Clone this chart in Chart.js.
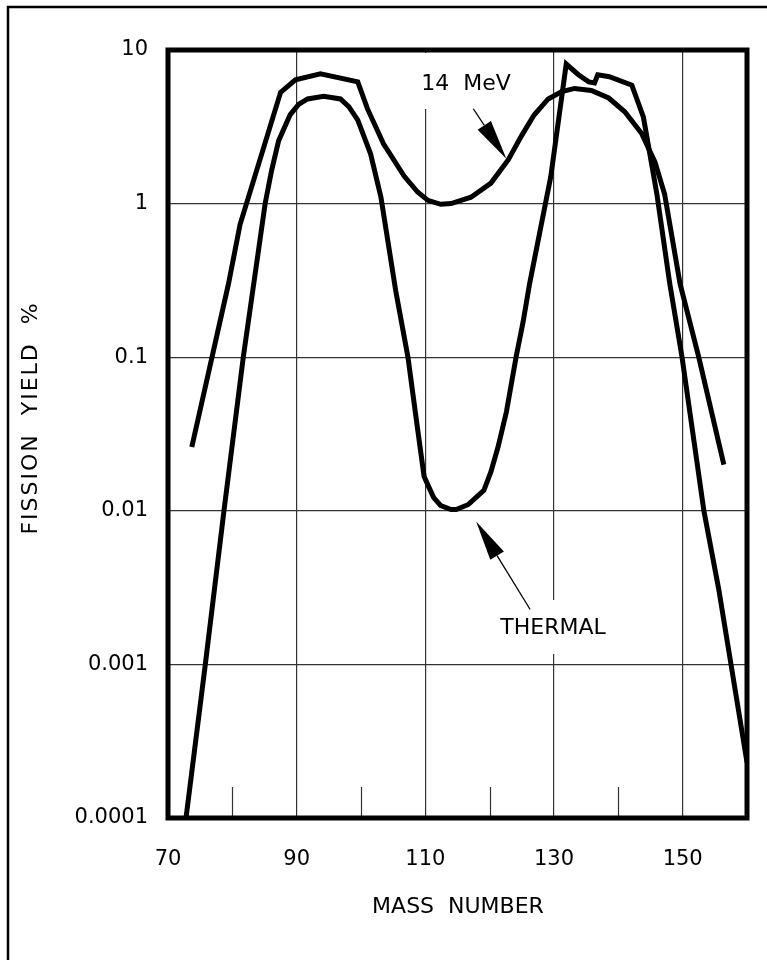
<!DOCTYPE html>
<html>
<head>
<meta charset="utf-8">
<script src="https://cdn.jsdelivr.net/npm/chart.js@4.4.1/dist/chart.umd.min.js"></script>
<style>
  html, body { margin: 0; padding: 0; background: #fff; }
  #wrap { width: 767px; height: 960px; position: relative; }
</style>
</head>
<body>
<div id="wrap"><canvas id="myChart"></canvas></div>
<script>
// tick values / labels
const massTicks = [70, 90, 110, 130, 150]
const minorTicks = [80, 100, 120, 140]
const yieldTicks = [0.0001, 0.001, 0.01, 0.1, 1, 10]
const yieldLabels = ['0.0001', '0.001', '0.01', '0.1', '1', '10']

// 14 MeV curve
const mev14Mass = [73.7, 79.4, 81.2, 87.5, 89.8, 93.7, 99.5, 101.0, 103.5, 106.7, 108.8, 110.4, 112.4, 114.0,
    117.1, 120.2, 122.9, 124.9, 126.9, 129.1, 131.2, 133.2, 135.8, 138.5, 141.0, 143.6, 145.7, 147.2, 149.6, 152.5, 156.4]
const mev14Yield = [0.026, 0.30, 0.73, 5.3, 6.4, 7.0, 6.2, 4.15, 2.45, 1.51, 1.19, 1.05, 0.99, 1.0,
    1.10, 1.36, 1.93, 2.74, 3.77, 4.8, 5.36, 5.62, 5.45, 4.87, 3.96, 2.87, 1.86, 1.15, 0.30, 0.10, 0.020]

// thermal curve
const thermalMass = [72.8, 75.8, 78.7, 81.7, 85.1, 86.1, 87.2, 89.0, 90.3, 91.7, 94.2, 96.8, 98.1, 99.5, 100.4, 101.5, 103.1,
    105.4, 107.3, 108.8, 109.8, 110.6, 111.3, 112.4, 114.0, 114.8, 116.7, 119.1, 120.2, 121.3, 122.6, 124.1, 125.2, 126.2,
    129.5, 131.9, 133.8, 135.4, 136.3, 136.8, 138.6, 142.1, 143.9, 146.0, 148.0, 149.9, 153.3, 155.6, 160]
const thermalYield = [0.0001, 0.001, 0.01, 0.1, 1, 1.64, 2.57, 3.8, 4.43, 4.8, 5.0, 4.8, 4.28, 3.5, 2.78, 2.1, 1.1,
    0.27, 0.10, 0.034, 0.0168, 0.0141, 0.0122, 0.0108, 0.0102, 0.0102, 0.011, 0.0136, 0.018, 0.026, 0.044, 0.10, 0.17, 0.30,
    1.5, 8.1, 6.9, 6.2, 6.1, 6.9, 6.7, 5.9, 3.65, 1.15, 0.30, 0.10, 0.010, 0.0031, 0.00023]

const fontFam = "'DejaVu Sans', 'Liberation Sans', sans-serif"

function toPoints(xs, ys) {
    return xs.map((x, i) => ({ x: x, y: ys[i] }))
}

function arrow(ctx, tipX, tipY, tailX, tailY, headLen, headW) {
    const ang = Math.atan2(tipY - tailY, tipX - tailX)
    const bx = tipX - headLen * Math.cos(ang)
    const by = tipY - headLen * Math.sin(ang)
    ctx.beginPath()
    ctx.moveTo(tailX, tailY)
    ctx.lineTo(bx, by)
    ctx.lineWidth = 1.3
    ctx.stroke()
    const nx = -Math.sin(ang) * headW / 2
    const ny = Math.cos(ang) * headW / 2
    ctx.beginPath()
    ctx.moveTo(tipX, tipY)
    ctx.lineTo(bx + nx, by + ny)
    ctx.lineTo(bx - nx, by - ny)
    ctx.closePath()
    ctx.fill()
}

const decor = {
    id: 'decor',
    beforeDatasetsDraw(chart) {
        const ctx = chart.ctx
        const a = chart.chartArea
        const xs = chart.scales.x
        ctx.save()
        // gaps in the grid behind the labels
        ctx.fillStyle = '#fff'
        ctx.fillRect(405, a.top + 3, 120, 56)
        ctx.fillRect(490, 600, 125, 54)
        // short ticks at the odd tens
        ctx.strokeStyle = '#333'
        ctx.lineWidth = 1.2
        minorTicks.forEach(v => {
            const px = Math.round(xs.getPixelForValue(v)) + 0.5
            ctx.beginPath()
            ctx.moveTo(px, a.bottom)
            ctx.lineTo(px, a.bottom - 31)
            ctx.stroke()
        })
        ctx.restore()
    },
    afterDraw(chart) {
        const ctx = chart.ctx
        const a = chart.chartArea
        const xs = chart.scales.x
        const ys = chart.scales.y
        ctx.save()
        // outer frame (top and left only)
        ctx.strokeStyle = '#000'
        ctx.lineWidth = 2.5
        ctx.beginPath()
        ctx.moveTo(8, 960)
        ctx.lineTo(8, 7)
        ctx.lineTo(767, 7)
        ctx.stroke()
        // plot frame
        ctx.lineWidth = 5
        ctx.strokeRect(a.left, a.top, a.right - a.left, a.bottom - a.top)

        ctx.fillStyle = '#000'
        ctx.font = '22px ' + fontFam
        ctx.textAlign = 'center'
        ctx.textBaseline = 'middle'
        ctx.fillText('14  MeV', 466, 84)
        ctx.fillText('THERMAL', 553, 628)
        ctx.fillText('MASS  NUMBER', 458, 907)

        ctx.save()
        ctx.letterSpacing = '2px'
        ctx.translate(31, 418)
        ctx.rotate(-Math.PI / 2)
        ctx.fillText('FISSION  YIELD  %', 0, 0)
        ctx.restore()

        // arrows pointing at the curves
        ctx.strokeStyle = '#000'
        let tx = xs.getPixelForValue(122.9) - 2
        let ty = ys.getPixelForValue(1.93) - 1
        arrow(ctx, tx, ty, tx - 33, ty - 50, 40, 16)
        tx = xs.getPixelForValue(117.9)
        ty = ys.getPixelForValue(0.0102) + 12
        arrow(ctx, tx, ty, tx + 54, ty + 88, 40, 16)
        ctx.restore()
    }
}

const ctx = document.getElementById('myChart').getContext('2d')

const myChart = new Chart(ctx, {
    type: 'line',
    data: {
        datasets: [
            {
                label: '14 MeV',
                data: toPoints(mev14Mass, mev14Yield),
                borderColor: '#000',
                borderWidth: 5,
                pointRadius: 0,
                tension: 0,
                fill: false
            },
            {
                label: 'THERMAL',
                data: toPoints(thermalMass, thermalYield),
                borderColor: '#000',
                borderWidth: 5,
                pointRadius: 0,
                tension: 0,
                fill: false
            }
        ]
    },
    options: {
        responsive: true,
        maintainAspectRatio: false,
        animation: false,
        layout: { padding: { left: 0, top: 50, right: 20, bottom: 0 } },
        plugins: {
            legend: { display: false },
            tooltip: { enabled: false }
        },
        scales: {
            x: {
                type: 'linear',
                min: 70,
                max: 160,
                afterBuildTicks: s => { s.ticks = massTicks.map(v => ({ value: v })) },
                afterFit: s => { s.height = 142 },
                grid: {
                    color: c => (c.tick && c.tick.value === 70) ? 'rgba(0,0,0,0)' : '#333',
                    lineWidth: 1.2,
                    drawTicks: false
                },
                border: { display: false },
                ticks: {
                    color: '#000',
                    font: { family: fontFam, size: 21 },
                    padding: 29,
                    maxRotation: 0
                }
            },
            y: {
                type: 'logarithmic',
                min: 0.0001,
                max: 10,
                afterBuildTicks: s => { s.ticks = yieldTicks.map(v => ({ value: v })) },
                afterFit: s => { s.width = 168 },
                grid: {
                    color: '#333',
                    lineWidth: 1.2,
                    drawTicks: false
                },
                border: { display: false },
                ticks: {
                    color: '#000',
                    font: { family: fontFam, size: 21 },
                    padding: 20,
                    callback: (v, i) => yieldLabels[i]
                }
            }
        }
    },
    plugins: [decor]
})
</script>
</body>
</html>
